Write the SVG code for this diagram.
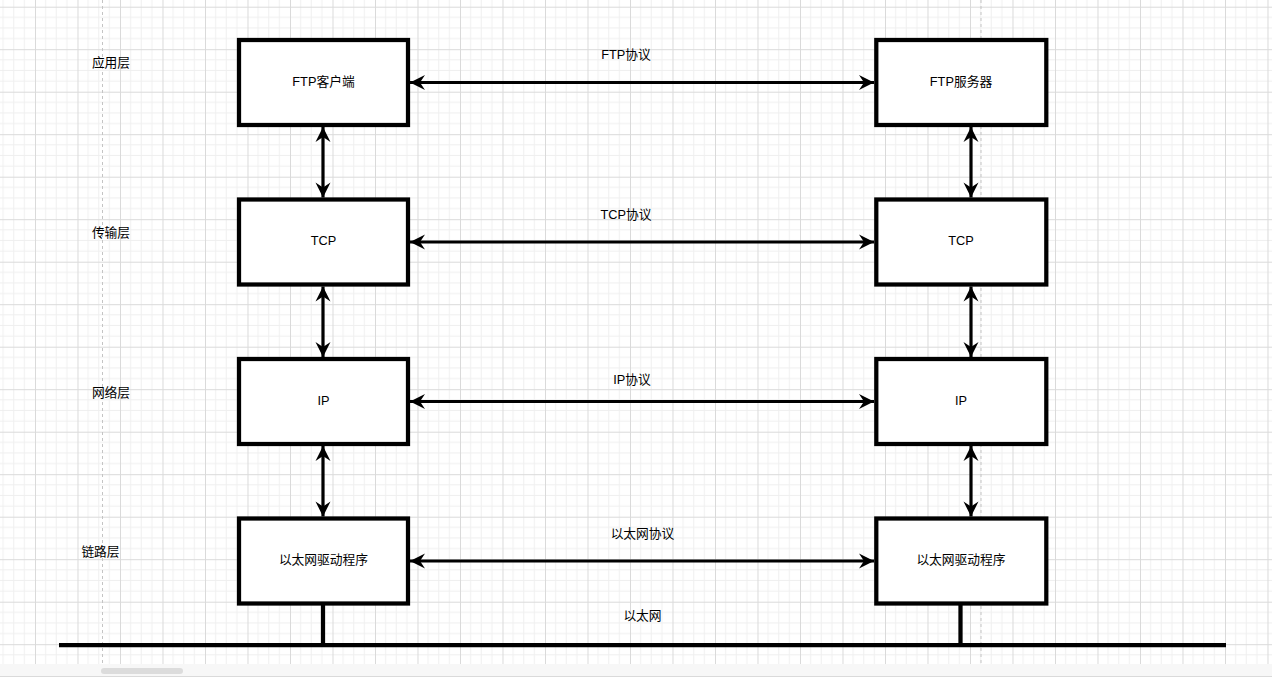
<svg xmlns="http://www.w3.org/2000/svg" width="1272" height="678" viewBox="0 0 1272 678">
<defs>
<pattern id="grid" x="35" y="6.7" width="42.5" height="42.5" patternUnits="userSpaceOnUse">
<path d="M10.625,0V42.5M21.25,0V42.5M31.875,0V42.5M0,10.625H42.5M0,21.25H42.5M0,31.875H42.5" stroke="#efefef" stroke-width="1" fill="none"/>
<path d="M0.5,0V42.5M0,0.5H42.5" stroke="#dadada" stroke-width="1" fill="none"/>
</pattern>
<marker id="ah" viewBox="-16 -8 17 16" refX="0" refY="0" markerWidth="17" markerHeight="16" markerUnits="userSpaceOnUse" orient="auto-start-reverse">
<path d="M0,0 L-15,-7.5 L-10,0 L-15,7.5 Z" fill="#000"/>
</marker>
</defs>
<style>
.box{fill:#fff;stroke:#000;stroke-width:4.25}
.conn{stroke:#000;stroke-width:3.2;fill:none;marker-start:url(#ah);marker-end:url(#ah)}
.bus{stroke:#000;stroke-width:4.25;fill:none}
text{font-family:"Liberation Sans","Noto Sans CJK SC",sans-serif;font-size:12.75px;fill:#000;text-anchor:middle}
</style>
<rect x="0" y="0" width="1272" height="664" fill="#fff"/>
<rect x="0" y="0" width="1272" height="664" fill="url(#grid)"/>
<g id="page-lines" stroke="#c4c4c4" stroke-width="1" stroke-dasharray="3,3">
<line x1="102.5" y1="0" x2="102.5" y2="664"/>
<line x1="981" y1="0" x2="981" y2="664"/>
</g>
<g id="footer">
<rect x="0" y="664" width="1272" height="14" fill="#f7f7f7"/>
<rect x="101" y="668" width="82" height="6" rx="3" fill="#dcdcdc"/>
<line x1="0" y1="676.5" x2="1272" y2="676.5" stroke="#dadada" stroke-width="1"/>
<rect x="0" y="677" width="1272" height="1" fill="#fff"/>
</g>
<g id="layer-labels">
<text x="111" y="67">应用层</text>
<text x="111" y="237">传输层</text>
<text x="111" y="397">网络层</text>
<text x="100.5" y="556">链路层</text>
</g>
<g id="connectors">
<line class="conn" x1="410" y1="82.5" x2="874" y2="82.5"/>
<line class="conn" x1="410" y1="242" x2="874" y2="242"/>
<line class="conn" x1="410" y1="401.5" x2="874" y2="401.5"/>
<line class="conn" x1="410" y1="561" x2="874" y2="561"/>
<line class="conn" x1="323" y1="127" x2="323" y2="197.5"/>
<line class="conn" x1="323" y1="286.5" x2="323" y2="357"/>
<line class="conn" x1="323" y1="446" x2="323" y2="516.5"/>
<line class="conn" x1="971" y1="127" x2="971" y2="197.5"/>
<line class="conn" x1="971" y1="286.5" x2="971" y2="357"/>
<line class="conn" x1="971" y1="446" x2="971" y2="516.5"/>
<line class="bus" x1="323" y1="605" x2="323" y2="645"/>
<line class="bus" x1="960.5" y1="605" x2="960.5" y2="645"/>
<line class="bus" x1="59" y1="645" x2="1226" y2="645"/>
</g>
<g id="connector-labels">
<text x="626" y="59">FTP协议</text>
<text x="626" y="219">TCP协议</text>
<text x="632" y="383.5">IP协议</text>
<text x="642.5" y="537.5">以太网协议</text>
<text x="642.5" y="620">以太网</text>
</g>
<g id="ftp-client"><rect class="box" x="239" y="40" width="169" height="85"/><text x="323.5" y="85.5">FTP客户端</text></g>
<g id="tcp-left"><rect class="box" x="239" y="199.5" width="169" height="85"/><text x="323.5" y="245">TCP</text></g>
<g id="ip-left"><rect class="box" x="239" y="359" width="169" height="85"/><text x="323.5" y="404.5">IP</text></g>
<g id="eth-left"><rect class="box" x="239" y="518.5" width="169" height="85"/><text x="323.5" y="564">以太网驱动程序</text></g>
<g id="ftp-server"><rect class="box" x="876.3" y="40" width="170" height="85"/><text x="961" y="85.5">FTP服务器</text></g>
<g id="tcp-right"><rect class="box" x="876.3" y="199.5" width="170" height="85"/><text x="961" y="245">TCP</text></g>
<g id="ip-right"><rect class="box" x="876.3" y="359" width="170" height="85"/><text x="961" y="404.5">IP</text></g>
<g id="eth-right"><rect class="box" x="876.3" y="518.5" width="170" height="85"/><text x="961" y="564">以太网驱动程序</text></g>
</svg>
